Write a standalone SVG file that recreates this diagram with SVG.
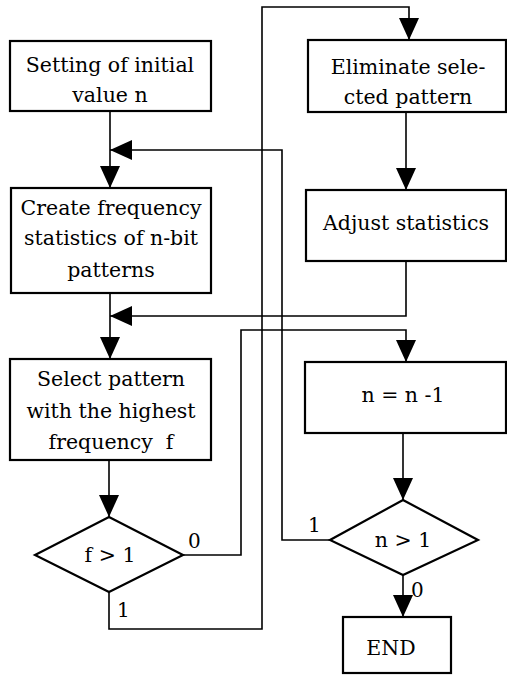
<svg xmlns="http://www.w3.org/2000/svg" width="507" height="675" viewBox="0 0 507 675">
<defs>
<marker id="arr" markerUnits="userSpaceOnUse" markerWidth="22" markerHeight="20" refX="22" refY="10" orient="auto">
<path d="M0,0 L22,10 L0,20 z" fill="#000"/>
</marker>
<style>
.box{fill:#fff;stroke:#000;stroke-width:2.2}
.t{font-family:"DejaVu Serif",serif;font-size:20.5px;fill:#000;text-anchor:middle}
.lbl{font-family:"DejaVu Serif",serif;font-size:20px;fill:#000}
.c{fill:none;stroke:#000;stroke-width:1.6}
</style>
</defs>
<rect width="507" height="675" fill="#fff"/>
<g id="connectors">
<path class="c" d="M110,111 V188" marker-end="url(#arr)"/>
<path class="c" d="M330,540 H282 V150 H110" marker-end="url(#arr)"/>
<path class="c" d="M110,293 V359" marker-end="url(#arr)"/>
<path class="c" d="M406,261 V316 H110" marker-end="url(#arr)"/>
<path class="c" d="M109,460 V517" marker-end="url(#arr)"/>
<path class="c" d="M183,555 H241 V330 H406 V362" marker-end="url(#arr)"/>
<path class="c" d="M109,592 V629 H262 V7 H409 V40" marker-end="url(#arr)"/>
<path class="c" d="M406,112 V190" marker-end="url(#arr)"/>
<path class="c" d="M403,433 V500" marker-end="url(#arr)"/>
<path class="c" d="M403,575 V617" marker-end="url(#arr)"/>
<text class="lbl" x="188" y="548">0</text>
<text class="lbl" x="117" y="617">1</text>
<text class="lbl" x="308" y="532">1</text>
<text class="lbl" x="411" y="597">0</text>
</g>
<g id="init">
<rect class="box" x="10" y="41" width="201" height="70"/>
<text class="t" x="110" y="72">Setting of initial</text>
<text class="t" x="110" y="102">value n</text>
</g>
<g id="create">
<rect class="box" x="11" y="188" width="200" height="105"/>
<text class="t" x="111" y="215">Create frequency</text>
<text class="t" x="111" y="245">statistics of n-bit</text>
<text class="t" x="111" y="277">patterns</text>
</g>
<g id="select">
<rect class="box" x="10" y="359" width="201" height="101"/>
<text class="t" x="111" y="386">Select pattern</text>
<text class="t" x="111" y="418">with the highest</text>
<text class="t" x="111" y="449" xml:space="preserve">frequency  f</text>
</g>
<g id="fcheck">
<polygon class="box" points="109,517 183,555 109,592 35,555"/>
<text class="t" x="110" y="562">f &gt; 1</text>
</g>
<g id="eliminate">
<rect class="box" x="308" y="40" width="198" height="72"/>
<text class="t" x="408" y="74">Eliminate sele-</text>
<text class="t" x="408" y="104">cted pattern</text>
</g>
<g id="adjust">
<rect class="box" x="306" y="190" width="200" height="71"/>
<text class="t" x="406" y="230">Adjust statistics</text>
</g>
<g id="decrement">
<rect class="box" x="305" y="362" width="201" height="71"/>
<text class="t" x="403" y="402">n = n -1</text>
</g>
<g id="ncheck">
<polygon class="box" points="403,500 478,540 403,575 330,540"/>
<text class="t" x="403" y="547">n &gt; 1</text>
</g>
<g id="end">
<rect class="box" x="343" y="617" width="108" height="56"/>
<text class="t" x="391" y="655">END</text>
</g>
</svg>
